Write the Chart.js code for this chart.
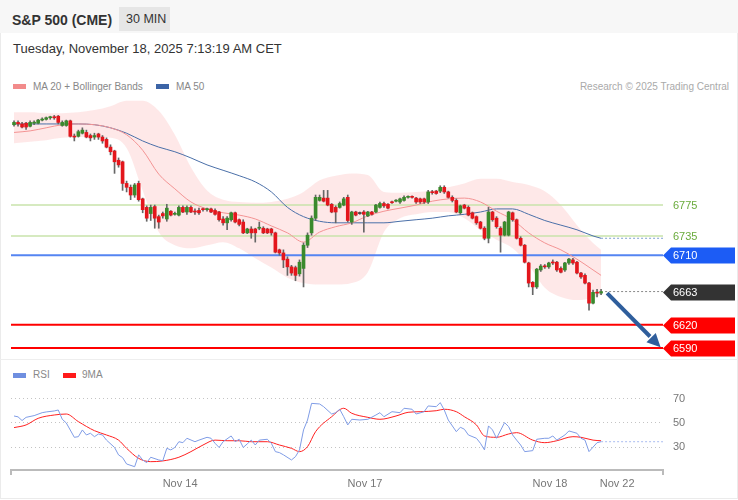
<!DOCTYPE html>
<html>
<head>
<meta charset="utf-8">
<title>S&amp;P 500 (CME)</title>
<script src="https://cdn.jsdelivr.net/npm/chart.js@4.4.1/dist/chart.umd.min.js"></script>
<style>
  html, body { margin: 0; padding: 0; background: #fff; }
  body { width: 738px; height: 500px; position: relative; overflow: hidden; font-family: "Liberation Sans", Arial, sans-serif; }
  #frame { position: absolute; left: 0; top: 0; width: 738px; height: 499px; box-sizing: border-box; border: 1px solid #ebebeb; }
  #head { position: absolute; left: 0; top: 0; width: 738px; height: 33px; background: #f7f7f7; }
  #title { position: absolute; left: 12px; top: 12px; font-size: 14px; font-weight: bold; color: #333; }
  #tfBox { position: absolute; left: 119px; top: 7px; width: 51px; height: 24px; background: #e6e6e6; }
  #tf { position: absolute; left: 126px; top: 12px; font-size: 12.5px; color: #333; }
  #date { position: absolute; left: 13px; top: 41px; font-size: 13px; color: #333; }
  .leg { position: absolute; font-size: 10px; color: #888; white-space: nowrap; }
  .sw { position: absolute; width: 13px; height: 5px; }
  #sep { position: absolute; left: 0; top: 359px; width: 738px; height: 1px; background: #eee; }
  #mainBox { position: absolute; left: 0; top: 100px; width: 738px; height: 258px; }
  #rsiBox { position: absolute; left: 0; top: 360px; width: 738px; height: 140px; }
</style>
</head>
<body>
<div id="frame"></div>
<div id="head"></div>
<div id="title">S&amp;P 500 (CME)</div>
<div id="tfBox"></div>
<div id="tf">30 MIN</div>
<div id="date">Tuesday, November 18, 2025 7:13:19 AM CET</div>
<div class="sw" style="left:13px;top:84px;background:#f28b8b"></div>
<div class="leg" style="left:33px;top:81px">MA 20 + Bollinger Bands</div>
<div class="sw" style="left:156px;top:84px;background:#3c64a6"></div>
<div class="leg" style="left:176px;top:81px">MA 50</div>
<div class="leg" style="right:9px;top:81px;color:#aaa">Research © 2025 Trading Central</div>
<div id="sep"></div>
<div id="mainBox"><canvas id="main"></canvas></div>
<div class="sw" style="left:13px;top:373px;background:#6f8fe0"></div>
<div class="leg" style="left:33px;top:369px">RSI</div>
<div class="sw" style="left:63px;top:373px;background:#ff1a1a"></div>
<div class="leg" style="left:82px;top:369px">9MA</div>
<div id="rsiBox"><canvas id="rsi"></canvas></div>

<script>
// 30 min candles, bar 0 = first candle on screen
const opens = [6879,6882,6880,6881,6877,6881,6881,6885,6886,6888,
  6889,6890,6878,6878,6884,6864,6864,6868,6869,6865,
  6863,6867,6863,6860,6850,6845,6833,6831,6803,6798,
  6788,6803,6783,6772,6764,6773,6760,6764,6757,6767,
  6763,6762,6772,6766,6772,6767,6768,6770,6769,6770,
  6768,6766,6757,6752,6756,6765,6756,6753,6739,6744,
  6744,6745,6745,6744,6744,6739,6717,6713,6705,6695,
  6694,6686,6693,6723,6739,6758,6781,6784,6784,6776,
  6772,6772,6775,6785,6753,6766,6764,6766,6761,6766,
  6766,6772,6777,6776,6779,6780,6779,6781,6785,6786,
  6784,6783,6783,6779,6792,6793,6793,6798,6792,6785,
  6781,6765,6775,6772,6765,6760,6753,6745,6732,6766,
  6758,6745,6736,6736,6765,6756,6732,6723,6700,6675,
  6669,6691,6696,6695,6701,6701,6693,6691,6700,6704,
  6701,6687,6684,6674,6648,6662,6661];
const closes = [6882,6880,6876,6876,6882,6882,6885,6886,6888,6889,
  6888,6882,6882,6884,6864,6863,6870,6872,6863,6862,
  6865,6863,6858,6850,6844,6831,6827,6803,6798,6788,
  6801,6782,6769,6758,6772,6758,6753,6761,6771,6762,
  6764,6772,6766,6772,6766,6766,6765,6769,6770,6766,
  6763,6756,6752,6758,6765,6753,6750,6739,6744,6739,
  6739,6746,6739,6739,6739,6714,6713,6704,6695,6687,
  6684,6701,6723,6736,6758,6785,6785,6780,6775,6766,
  6766,6777,6783,6755,6766,6762,6764,6763,6766,6763,
  6775,6777,6774,6771,6778,6781,6783,6785,6786,6785,
  6779,6779,6779,6792,6791,6790,6798,6792,6785,6781,
  6766,6774,6771,6762,6758,6752,6745,6732,6766,6756,
  6747,6736,6753,6766,6756,6732,6723,6701,6674,6669,
  6692,6696,6695,6700,6700,6691,6688,6700,6705,6700,
  6687,6682,6674,6648,6662,6661,6663];
const highs = [6884,6884,6882,6882,6884,6884,6886,6888,6889,6890,
  6891,6891,6884,6885,6885,6867,6872,6875,6872,6867,
  6868,6868,6865,6862,6853,6846,6836,6832,6806,6801,
  6803,6806,6784,6774,6775,6775,6762,6766,6776,6768,
  6766,6774,6774,6774,6774,6770,6771,6771,6771,6771,
  6770,6767,6760,6760,6766,6766,6757,6756,6745,6747,
  6745,6753,6747,6745,6745,6740,6718,6717,6708,6697,
  6696,6704,6726,6739,6761,6788,6788,6794,6794,6777,
  6774,6779,6785,6788,6767,6767,6766,6768,6767,6767,
  6776,6779,6779,6777,6780,6782,6784,6787,6787,6787,
  6785,6784,6784,6794,6794,6794,6800,6800,6793,6787,
  6783,6775,6776,6774,6766,6761,6754,6747,6772,6767,
  6760,6747,6754,6767,6766,6757,6734,6724,6701,6676,
  6693,6698,6698,6701,6704,6702,6695,6701,6706,6706,
  6702,6688,6686,6675,6665,6666,6666];
const lows = [6877,6877,6875,6873,6876,6879,6880,6884,6885,6886,
  6886,6880,6877,6877,6863,6858,6863,6867,6862,6858,
  6860,6860,6855,6849,6840,6816,6824,6794,6792,6782,
  6785,6780,6765,6754,6755,6745,6745,6758,6754,6761,
  6762,6761,6765,6763,6765,6763,6763,6767,6767,6765,
  6762,6754,6749,6743,6754,6752,6748,6738,6738,6732,
  6727,6743,6738,6738,6736,6713,6710,6694,6684,6684,
  6677,6683,6669,6720,6736,6755,6780,6779,6774,6765,
  6752,6771,6774,6753,6750,6761,6763,6740,6760,6762,
  6765,6771,6772,6770,6777,6779,6777,6780,6784,6784,
  6777,6777,6777,6777,6789,6789,6791,6790,6784,6779,
  6765,6763,6770,6761,6757,6750,6744,6730,6726,6754,
  6745,6714,6735,6735,6754,6731,6722,6700,6669,6659,
  6667,6689,6693,6693,6698,6689,6687,6689,6698,6698,
  6686,6680,6673,6639,6647,6656,6659];

// moving averages and bands, read every 4 bars
const bandBar = [0,4,8,12,16,20,24,28,32,36,40,44,48,52,56,60,64,68,72,76,
  80,84,88,92,96,100,104,108,112,116,120,124,128,132,136,140,144,146];
const ma20 = [6869,6871,6875,6879,6880,6879,6875,6866,6846,6815,6796,6779,6770,6765,6762,6757,6748,6739,6727,6740,
  6747,6752,6761,6767,6771,6775,6780,6783,6784,6779,6767,6756,6739,6726,6717,6705,6691,6684];
const ma50 = [6880,6880,6880,6880,6880,6879,6875,6868,6858,6850,6844,6836,6827,6820,6813,6805,6792,6772,6760,6754,
  6752,6752,6752,6752,6754,6756,6758,6761,6763,6766,6770,6770,6763,6755,6749,6743,6735,6732];
const bbUpper = [6895,6895,6894,6894,6895,6898,6903,6910,6910,6897,6866,6824,6794,6782,6779,6778,6779,6783,6792,6807,
  6813,6816,6814,6792,6791,6792,6794,6798,6803,6809,6809,6805,6801,6793,6775,6749,6726,6717];
const bbLower = [6855,6857,6859,6862,6863,6863,6862,6849,6794,6740,6723,6719,6723,6727,6719,6706,6694,6681,6674,6672,
  6672,6674,6688,6740,6758,6763,6766,6766,6758,6743,6730,6719,6697,6668,6656,6652,6655,6659];

// key levels
const levels = [6775, 6735, 6710, 6620, 6590];
const levelKind = ['res', 'res', 'pivot', 'sup', 'sup'];
const arrowFrom = [147.5, 6661];
const arrowTo = [160.8, 6591];

// RSI panel
const rsiBar = [0,1,2,3,5,7,8,10,11,12,
  13,15,16,17,18,19,20,21,22,23,
  25,26,27,28,30,31,32,33,34,36,
  37,38,39,40,41,42,43,45,46,48,
  49,50,51,52,54,55,56,57,58,59,
  60,61,63,64,65,66,67,69,70,71,
  72,73,74,76,77,79,80,81,82,83,
  84,86,88,90,91,92,94,96,97,99,
  100,102,103,105,106,107,108,110,111,112,
  113,115,116,117,118,119,120,122,123,124,
  125,126,127,129,130,132,133,134,135,137,
  138,140,141,142,143,145,146];
const rsiVal = [55.7,55,52,54.6,56,58.4,59,59.8,60.6,53,
  50,38.3,38.8,44.3,40.2,41.6,38.8,41,40.2,36,
  30,23.9,21.7,16.5,14.3,24,19.8,17.6,22,19.8,
  19.2,29.3,28,30,34.7,33.9,37.5,34.7,36,38.3,
  37.5,33.4,30,34.7,39.4,34.7,36.7,30,32.9,36,
  32,36,36.7,33.4,26.6,25.8,24,19.8,22.5,28,
  44.3,52.4,66,65.5,63.3,57.3,58.4,61.2,55.1,48.4,
  53,52.4,53,56.5,58.4,55.1,59.2,58.4,62,61.2,
  57.3,59.2,63.9,63.3,66.6,60.6,52.4,42.9,46.5,44.9,
  40.2,37.5,33.4,28,47.6,44.3,37.5,50.3,47,40.2,
  36,32,26.6,27.4,36.7,37.5,37.5,39.4,36,40.2,
  43.5,41.6,37.5,36,26.6,33.9,34.7];
const ma9Bar = [0,3,6,10,13,16,20,23,26,28,
  31,34,37,41,44,47,50,53,56,59,
  63,66,69,71,73,75,79,82,84,88,
  91,95,98,101,105,107,110,112,115,117,
  120,123,125,129,132,135,139,141,144,146];
const ma9Val = [46.2,48.4,53.8,56.5,57.3,51.1,43.7,40.2,36,29.3,
  21.1,18.4,19,22,26.6,32,36,35.5,35.5,34.7,
  34.7,32,29.3,26.6,30.7,42.9,55.1,62,57.9,54.6,
  53,55.7,58.7,59.2,60,61.2,59.2,55.1,48.4,39.4,
  38.3,41,42.1,36,33.9,35.5,38.8,38.3,36,35.5];
const rsiTicks = [30, 50, 70];
const dayTicks = [41.3, 87.3, 133.3, 150];
const dayLabels = ['Nov 14', 'Nov 17', 'Nov 18', 'Nov 22'];

const xMin = -0.75, xMax = 161.4;
const FONT = '"Liberation Sans", Arial, sans-serif';
Chart.defaults.font.family = FONT;

const lastBar = closes.length - 1;
const lastPrice = closes[lastBar];
const pts = (xs, ys) => xs.map((b, k) => ({ x: b, y: ys[k] }));
const flat = (v, from) => [{ x: from, y: v }, { x: xMax, y: v }];
const line = (data, color, width, extra) => Object.assign({
  type: 'line', data, borderColor: color, borderWidth: width, pointRadius: 0, fill: false
}, extra || {});

const levelLine = { res: ['#c9e3ab', 1.5], pivot: ['#5585f2', 2], sup: ['#ff0000', 2] };
const tagColor = { pivot: '#1c5cf5', sup: '#ff0000', last: '#333333' };

const overlay = {
  id: 'overlay',
  afterDraw(chart) {
    const { ctx, chartArea: a, scales: { x, y } } = chart;
    ctx.save();
    // forecast arrow
    const x0 = x.getPixelForValue(arrowFrom[0]), y0 = y.getPixelForValue(arrowFrom[1]);
    const x1 = x.getPixelForValue(arrowTo[0]), y1 = y.getPixelForValue(arrowTo[1]);
    const ang = Math.atan2(y1 - y0, x1 - x0), head = 15;
    ctx.strokeStyle = ctx.fillStyle = '#2f5e9c';
    ctx.lineWidth = 4;
    ctx.beginPath();
    ctx.moveTo(x0, y0);
    ctx.lineTo(x1 - head * Math.cos(ang), y1 - head * Math.sin(ang));
    ctx.stroke();
    ctx.beginPath();
    ctx.moveTo(x1, y1);
    ctx.lineTo(x1 - head * Math.cos(ang - 0.45), y1 - head * Math.sin(ang - 0.45));
    ctx.lineTo(x1 - head * Math.cos(ang + 0.45), y1 - head * Math.sin(ang + 0.45));
    ctx.closePath();
    ctx.fill();

    // price tags on the right
    ctx.font = '11px ' + FONT;
    ctx.textBaseline = 'middle';
    const tags = levels.map((v, k) => [v, levelKind[k]]).concat([[lastPrice, 'last']]);
    tags.forEach(([v, kind]) => {
      const py = Math.round(y.getPixelForValue(v)) + 0.5;
      if (kind === 'res') {
        ctx.fillStyle = '#6aab3c';
        ctx.fillText(String(v), a.right + 10, py);
        return;
      }
      ctx.fillStyle = tagColor[kind];
      ctx.beginPath();
      ctx.moveTo(a.right, py);
      ctx.lineTo(a.right + 8, py - 8);
      ctx.lineTo(chart.width - 3, py - 8);
      ctx.lineTo(chart.width - 3, py + 8);
      ctx.lineTo(a.right + 8, py + 8);
      ctx.closePath();
      ctx.fill();
      ctx.fillStyle = '#fff';
      ctx.fillText(String(v), a.right + 10, py);
    });
    ctx.restore();
  }
};

const mainSets = [
  line(pts(bandBar, bbUpper), 'rgba(0,0,0,0)', 0, { fill: '+1', backgroundColor: 'rgba(250,160,160,0.24)', cubicInterpolationMode: 'monotone', order: 10 }),
  line(pts(bandBar, bbLower), 'rgba(0,0,0,0)', 0, { cubicInterpolationMode: 'monotone', order: 10 }),
  line(pts(bandBar, ma20), '#f39393', 1, { cubicInterpolationMode: 'monotone', order: 6 }),
  line(pts(bandBar, ma50), '#4a6fa8', 1, { cubicInterpolationMode: 'monotone', order: 6 }),
  line(flat(ma50[ma50.length - 1], bandBar[bandBar.length - 1]), '#7f9fd0', 1, { borderDash: [2, 2], order: 6 }),
  line(flat(lastPrice, lastBar + 1), '#888', 1, { borderDash: [2, 2], order: 6 })
];
levels.forEach((v, k) => {
  const [c, w] = levelLine[levelKind[k]];
  mainSets.push(line(flat(v, xMin), c, w, { order: 7 }));
});
mainSets.push({
  type: 'bar', grouped: false, order: 2, barThickness: 1,
  data: lows.map((l, i) => ({ x: i, y: [l, highs[i]] })),
  backgroundColor: '#666'
});
mainSets.push({
  type: 'bar', grouped: false, order: 1, barThickness: 3, minBarLength: 1,
  data: opens.map((o, i) => ({ x: i, y: [o, closes[i]] })),
  backgroundColor: opens.map((o, i) => closes[i] > o ? '#3a8a2c' : (closes[i] < o ? '#e3161c' : '#444'))
});

new Chart(document.getElementById('main'), {
  type: 'line',
  data: { datasets: mainSets },
  options: {
    animation: false,
    responsive: true,
    maintainAspectRatio: false,
    layout: { padding: { left: 11, right: 75, top: 0, bottom: 0 } },
    plugins: { legend: { display: false }, tooltip: { enabled: false } },
    scales: {
      x: { type: 'linear', min: xMin, max: xMax, offset: false, display: false },
      y: { min: 6577, max: 6911, display: false }
    }
  },
  plugins: [overlay]
});

new Chart(document.getElementById('rsi'), {
  type: 'line',
  data: {
    datasets: [
      line(pts(rsiBar, rsiVal), '#7f9ce6', 1),
      line(pts(ma9Bar, ma9Val), '#ff2020', 1, { cubicInterpolationMode: 'monotone' }),
      line(flat(rsiVal[rsiVal.length - 1], rsiBar[rsiBar.length - 1]), '#a9bcf0', 1, { borderDash: [2, 2] })
    ]
  },
  options: {
    animation: false,
    responsive: true,
    maintainAspectRatio: false,
    layout: { padding: { left: 11, top: 25, right: 0, bottom: 0 } },
    plugins: { legend: { display: false }, tooltip: { enabled: false } },
    scales: {
      x: {
        type: 'linear', min: xMin, max: xMax, offset: false,
        afterBuildTicks: s => { s.ticks = [xMin].concat(dayTicks, [xMax]).map(v => ({ value: v })); },
        afterFit: s => { s.height = 30; },
        ticks: {
          autoSkip: false, maxRotation: 0, color: '#777', font: { size: 11 }, padding: 2,
          callback: v => { const k = dayTicks.indexOf(v); return k >= 0 ? dayLabels[k] : ''; }
        },
        grid: {
          drawOnChartArea: false, tickLength: 5, lineWidth: 2,
          color: c => (c.index === 0 || c.index === dayTicks.length + 1) ? '#bbb' : 'rgba(0,0,0,0)'
        },
        border: { display: true, color: '#bbb', width: 2 }
      },
      y: {
        position: 'right', min: 11.6, max: 81,
        afterBuildTicks: s => { s.ticks = rsiTicks.map(v => ({ value: v })); },
        afterFit: s => { s.width = 75; },
        ticks: { color: '#777', font: { size: 11 }, padding: 10 },
        grid: { drawTicks: false, color: '#c4c4c4', lineWidth: 1 },
        border: { display: false, dash: [1, 3] }
      }
    }
  }
});
</script>
</body>
</html>
